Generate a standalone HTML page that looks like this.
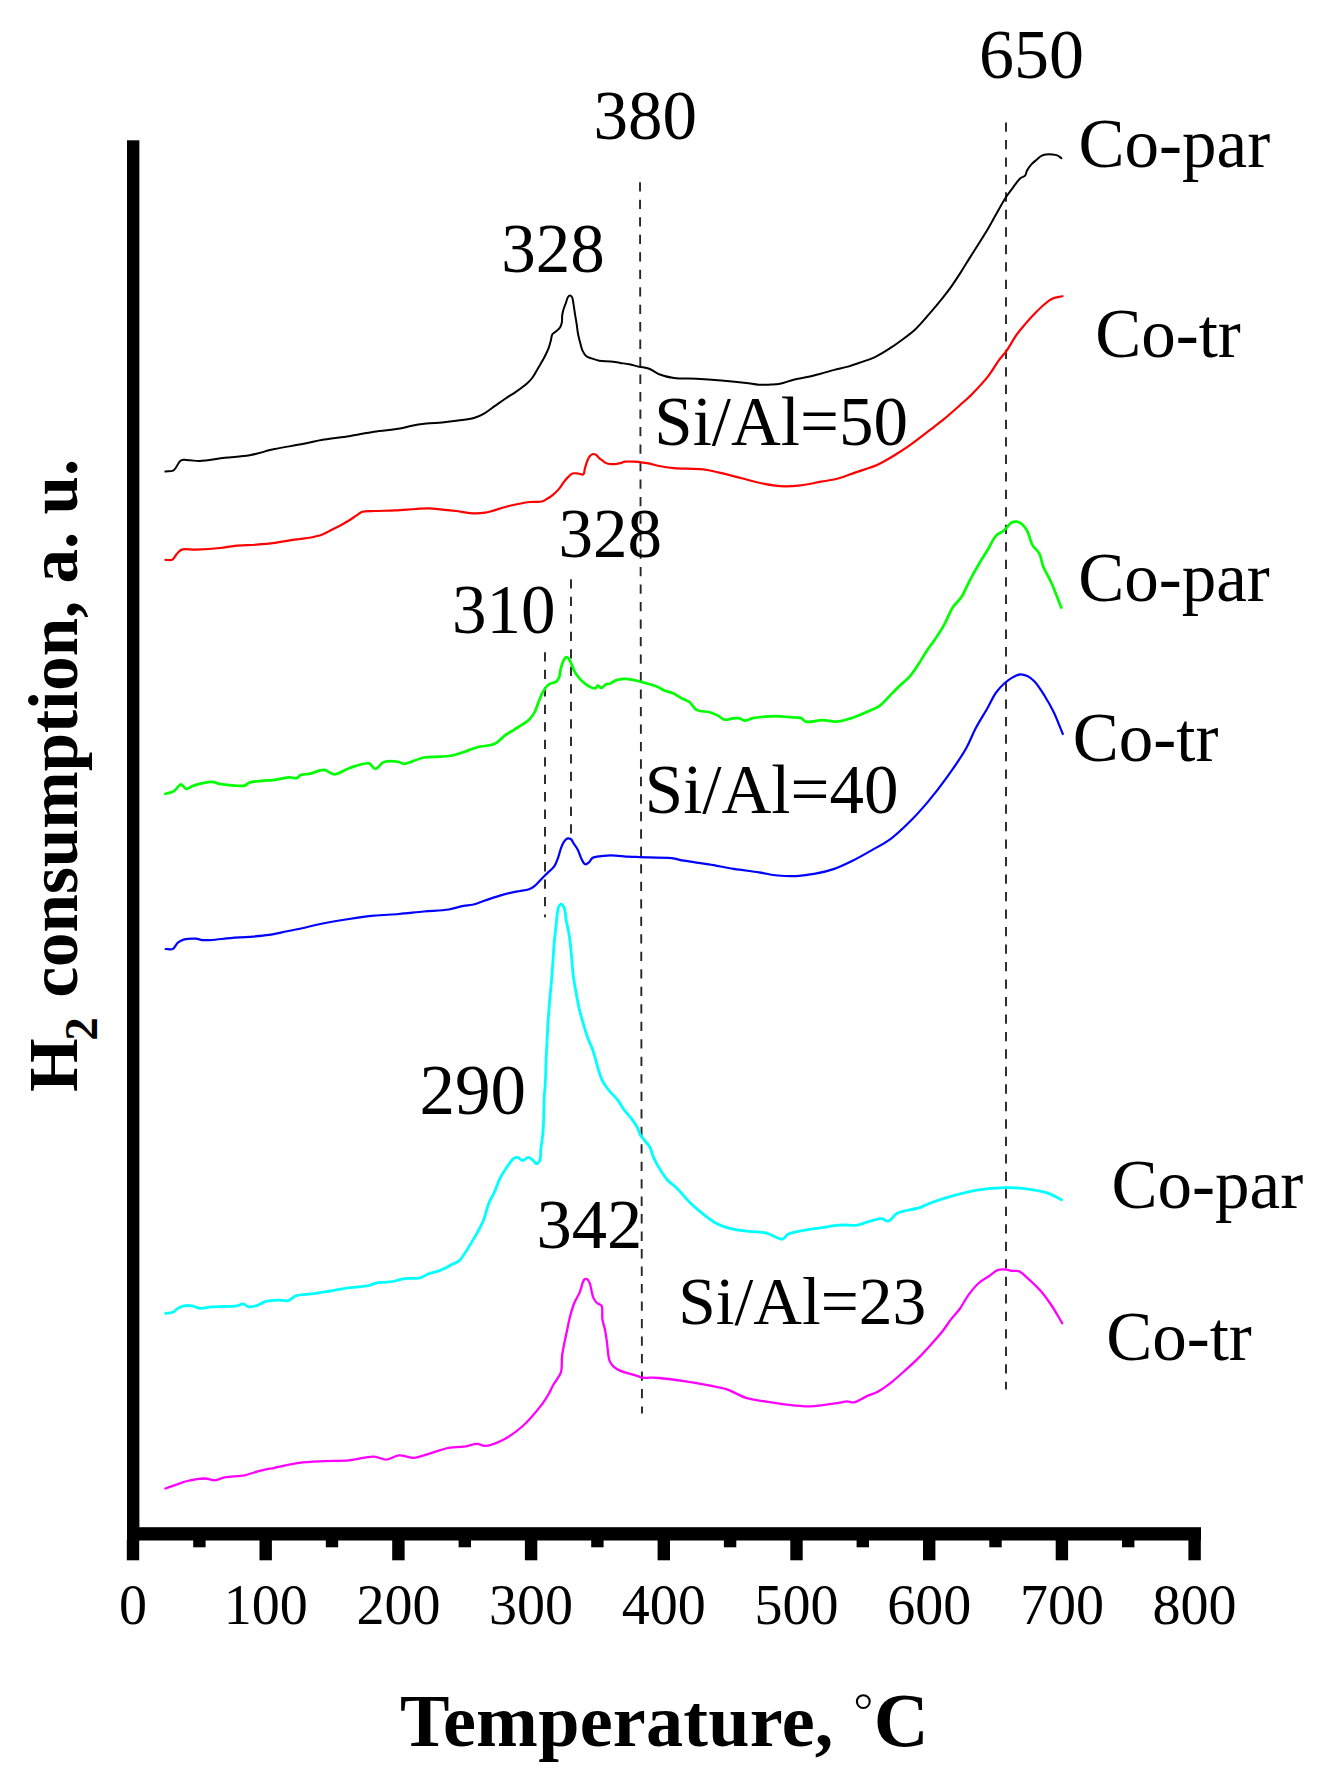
<!DOCTYPE html>
<html><head><meta charset="utf-8"><style>
html,body{margin:0;padding:0;background:#fff;width:1326px;height:1790px;overflow:hidden}
svg{display:block}
text{font-family:"Liberation Serif",serif;fill:#000}
</style></head><body>
<svg width="1326" height="1790" viewBox="0 0 1326 1790">
<rect width="1326" height="1790" fill="#fff"/>

<g stroke="#262626" stroke-width="1.9" stroke-dasharray="9.3 8.19" fill="none">
<line x1="640.0" y1="182.2" x2="642.0" y2="1413.5"/>
<line x1="1006" y1="122.4" x2="1006" y2="1389.5"/>
<line x1="545" y1="652.2" x2="545" y2="917.3"/>
<line x1="571" y1="579.3" x2="571" y2="835"/>
</g>
<path d="M165.40,471.50 C168.13,471.10 171.18,471.74 173.60,470.30 C176.57,468.53 178.07,461.82 181.10,460.30 C183.63,459.04 186.80,460.20 189.80,460.30 C193.02,460.41 195.73,461.12 199.80,461.00 C206.25,460.81 216.39,458.75 224.70,457.80 C232.99,456.85 241.36,456.74 249.60,455.30 C257.93,453.85 266.10,450.89 274.40,449.10 C282.66,447.32 291.01,446.18 299.30,444.60 C307.61,443.02 315.88,441.00 324.20,439.60 C332.48,438.21 340.81,437.51 349.10,436.20 C357.41,434.88 365.59,432.96 374.00,431.70 C382.55,430.42 393.27,429.82 400.00,428.60 C404.34,427.81 406.70,426.77 410.60,426.00 C415.32,425.06 421.12,424.18 426.40,423.60 C431.65,423.02 436.93,423.00 442.20,422.50 C447.50,422.00 452.82,421.35 458.10,420.60 C463.38,419.85 469.24,419.39 473.90,418.00 C477.87,416.81 481.07,415.25 484.50,413.30 C488.11,411.25 491.49,408.36 495.00,405.90 C498.52,403.43 502.05,400.90 505.60,398.50 C509.11,396.13 512.72,394.04 516.20,391.60 C519.75,389.11 523.90,386.16 526.70,383.70 C528.79,381.87 530.09,380.71 531.80,378.50 C534.15,375.46 536.65,370.53 538.90,366.70 C541.01,363.11 543.19,359.53 544.90,356.20 C546.39,353.31 547.68,350.64 548.70,347.90 C549.65,345.35 550.26,342.69 550.90,340.30 C551.47,338.19 551.41,335.84 552.40,334.30 C553.28,332.94 554.96,332.40 556.20,331.30 C557.50,330.14 559.05,328.99 560.00,327.50 C560.97,325.97 561.53,324.11 561.90,322.20 C562.31,320.10 561.90,317.65 562.20,315.40 C562.50,313.15 563.05,310.86 563.70,308.70 C564.33,306.60 565.28,304.56 566.00,302.60 C566.67,300.77 567.09,298.54 567.90,297.30 C568.45,296.45 569.12,295.55 569.80,295.50 C570.49,295.45 571.43,296.15 572.00,297.00 C572.94,298.41 573.03,301.49 573.50,304.10 C574.07,307.27 574.56,311.31 575.10,314.70 C575.60,317.82 576.12,320.57 576.60,323.70 C577.12,327.09 577.45,330.93 578.10,334.30 C578.70,337.44 579.52,340.44 580.30,343.30 C581.02,345.95 581.50,348.67 582.60,350.90 C583.59,352.92 584.82,354.94 586.40,356.20 C587.87,357.37 589.68,357.71 591.60,358.40 C593.87,359.22 596.38,360.19 599.20,360.70 C602.56,361.30 606.91,361.01 610.50,361.40 C613.81,361.76 616.86,362.41 620.00,362.90 C623.09,363.38 626.08,363.69 629.20,364.30 C632.48,364.94 635.86,365.97 639.20,366.70 C642.53,367.43 645.96,367.51 649.20,368.70 C652.61,369.95 655.36,372.71 659.10,374.20 C663.46,375.93 668.48,377.22 674.00,378.00 C680.66,378.94 688.74,378.32 696.40,378.70 C704.48,379.10 713.01,379.70 721.30,380.40 C729.61,381.10 739.32,382.06 746.20,382.90 C751.09,383.50 754.63,384.43 758.70,384.70 C762.55,384.96 766.35,384.76 770.00,384.60 C773.44,384.45 776.45,384.46 780.00,383.80 C784.22,383.02 789.05,380.92 793.60,379.80 C798.08,378.69 802.60,378.11 807.10,377.10 C811.64,376.08 816.17,374.90 820.70,373.70 C825.24,372.50 829.76,371.09 834.30,369.90 C838.82,368.72 843.40,367.89 847.90,366.60 C852.44,365.30 856.90,363.68 861.40,362.10 C865.94,360.51 870.56,359.19 875.00,357.10 C879.63,354.92 884.13,352.06 888.60,349.20 C893.20,346.27 897.73,343.04 902.20,339.70 C906.76,336.29 911.35,332.99 915.70,328.90 C920.41,324.47 924.82,319.05 929.30,313.90 C933.89,308.63 939.13,302.29 942.90,297.60 C945.69,294.13 947.45,291.95 950.00,288.40 C953.32,283.79 957.48,277.40 960.90,272.10 C964.09,267.15 966.88,262.42 969.90,257.60 C972.92,252.79 975.98,248.01 979.00,243.20 C982.02,238.38 985.05,233.71 988.00,228.70 C991.09,223.46 994.05,217.74 997.10,212.40 C1000.08,207.18 1003.16,201.50 1006.10,197.00 C1008.54,193.27 1010.85,190.30 1013.30,187.10 C1015.69,183.97 1018.26,179.91 1020.60,178.00 C1022.14,176.75 1024.05,176.88 1025.10,175.70 C1026.17,174.50 1026.02,172.48 1026.90,170.80 C1027.98,168.74 1029.70,166.30 1031.40,164.40 C1033.05,162.55 1035.14,161.00 1036.90,159.50 C1038.46,158.16 1039.81,156.64 1041.40,155.80 C1042.83,155.05 1044.25,154.73 1045.90,154.50 C1047.83,154.23 1050.32,154.32 1052.30,154.50 C1054.05,154.66 1055.70,154.80 1057.20,155.40 C1058.69,156.00 1059.93,157.20 1061.30,158.10" fill="none" stroke="#000000" stroke-width="2.0" stroke-linejoin="round" stroke-linecap="round"/>
<path d="M165.40,559.80 C167.63,559.80 170.22,560.70 172.10,559.80 C174.11,558.83 175.22,555.56 176.90,553.80 C178.43,552.20 179.46,550.44 181.70,549.60 C185.08,548.33 190.76,549.78 196.20,549.60 C203.22,549.37 213.29,548.74 220.30,548.00 C225.76,547.42 229.47,546.43 234.80,545.90 C241.29,545.25 249.60,545.23 256.50,544.70 C262.81,544.21 268.58,543.70 274.60,542.90 C280.65,542.10 288.01,540.58 292.70,539.90 C295.67,539.47 297.32,539.35 300.00,539.00 C303.27,538.57 307.29,538.20 310.90,537.50 C314.53,536.80 318.41,536.02 321.70,534.80 C324.69,533.69 327.06,532.11 329.90,530.70 C332.95,529.18 336.26,527.68 339.40,526.00 C342.59,524.29 345.89,522.37 348.90,520.50 C351.74,518.74 354.56,516.68 357.00,515.10 C358.97,513.82 360.12,512.43 362.40,511.70 C365.57,510.69 370.09,511.20 374.70,511.00 C380.62,510.74 388.23,510.73 395.00,510.40 C401.79,510.07 409.29,509.37 415.40,509.00 C420.39,508.70 424.48,508.18 429.00,508.30 C433.51,508.42 437.99,509.25 442.50,509.70 C447.02,510.15 451.57,510.43 456.10,511.00 C460.64,511.57 465.03,512.80 469.70,513.10 C474.61,513.41 479.27,513.55 484.90,512.70 C492.24,511.59 501.89,507.53 509.80,505.70 C516.85,504.07 524.15,502.66 530.00,502.00 C534.44,501.50 538.69,502.30 541.80,501.50 C544.02,500.93 545.37,499.90 547.20,498.80 C549.27,497.56 551.53,495.95 553.50,494.30 C555.46,492.65 557.34,490.86 559.00,488.90 C560.67,486.93 561.96,484.51 563.50,482.50 C564.96,480.59 566.42,478.65 568.00,477.10 C569.43,475.70 570.81,474.09 572.50,473.50 C574.15,472.92 576.18,473.35 578.00,473.50 C579.81,473.65 582.27,475.14 583.40,474.40 C584.55,473.66 584.26,470.93 584.80,469.00 C585.43,466.74 586.12,463.92 587.00,461.70 C587.78,459.73 588.51,457.62 589.70,456.30 C590.70,455.19 592.14,454.15 593.30,454.00 C594.26,453.88 595.18,454.33 596.10,454.90 C597.32,455.66 598.54,457.63 599.70,458.60 C600.62,459.37 601.52,459.75 602.40,460.40 C603.32,461.08 604.02,462.02 605.10,462.60 C606.36,463.27 607.95,463.75 609.60,464.00 C611.53,464.29 614.06,464.19 616.00,464.00 C617.64,463.84 619.01,463.48 620.50,463.10 C622.01,462.72 623.21,461.97 625.00,461.70 C627.48,461.32 631.08,461.55 634.10,461.70 C637.11,461.85 640.30,462.24 643.10,462.60 C645.56,462.92 647.55,463.20 650.00,463.70 C652.84,464.28 655.68,465.33 659.10,466.00 C663.42,466.85 668.11,467.56 673.90,468.10 C682.02,468.85 695.03,468.39 703.30,469.40 C709.44,470.15 713.45,471.30 719.20,472.60 C726.09,474.16 734.26,476.42 741.80,478.30 C749.33,480.18 757.50,482.55 764.40,483.90 C770.13,485.02 774.81,485.88 780.30,486.20 C786.12,486.54 792.06,486.35 798.40,485.70 C805.54,484.97 813.89,483.00 821.00,481.70 C827.37,480.54 833.33,479.87 839.10,478.30 C844.61,476.80 849.15,474.64 854.90,472.60 C861.78,470.16 870.59,467.86 877.60,464.70 C884.12,461.76 890.14,457.86 895.70,454.50 C900.61,451.53 904.16,449.30 909.30,445.70 C916.44,440.69 927.84,431.71 934.20,426.80 C938.20,423.72 940.32,422.16 943.90,419.20 C948.55,415.35 954.66,409.93 959.60,405.50 C964.11,401.45 967.97,398.20 972.40,393.70 C977.70,388.31 984.36,381.09 989.00,375.10 C992.90,370.05 995.61,364.74 998.80,360.40 C1001.49,356.74 1004.04,354.34 1006.70,350.60 C1009.93,346.06 1013.29,339.44 1016.50,334.90 C1019.14,331.16 1021.57,328.33 1024.30,325.10 C1027.10,321.79 1030.03,318.52 1033.10,315.30 C1036.26,311.99 1039.60,308.36 1043.00,305.50 C1046.15,302.85 1049.30,300.15 1052.70,298.60 C1055.83,297.17 1059.23,297.00 1062.50,296.20" fill="none" stroke="#ff0000" stroke-width="2.2" stroke-linejoin="round" stroke-linecap="round"/>
<path d="M165.40,793.80 C168.13,792.97 171.08,792.74 173.60,791.30 C176.35,789.73 178.84,784.42 181.10,784.40 C182.93,784.38 184.15,788.49 186.10,788.80 C188.26,789.15 190.48,786.56 193.60,785.60 C198.36,784.13 207.40,781.75 212.20,781.90 C215.27,782.00 216.75,783.34 219.70,783.90 C223.80,784.68 230.12,785.35 234.60,785.60 C238.26,785.81 241.93,786.38 244.60,785.60 C246.66,785.00 247.16,783.25 249.60,782.40 C254.61,780.66 267.18,780.86 274.40,779.90 C280.04,779.15 285.27,777.55 289.40,777.40 C292.29,777.30 294.84,778.71 296.80,778.10 C298.40,777.60 298.94,775.62 300.60,774.90 C302.81,773.95 306.04,774.52 309.30,773.90 C313.63,773.07 319.78,769.54 324.20,769.90 C327.92,770.20 330.52,774.35 334.20,774.40 C338.66,774.46 343.70,769.96 349.10,768.20 C355.18,766.21 364.44,762.26 369.00,763.40 C371.90,764.12 372.92,768.83 375.20,768.90 C377.85,768.98 380.43,763.23 384.00,762.00 C388.12,760.58 395.30,761.34 398.90,762.00 C401.06,762.40 401.67,763.84 403.90,763.90 C408.32,764.01 417.43,758.66 423.80,757.50 C429.41,756.48 434.96,757.07 440.00,756.70 C444.41,756.38 448.30,756.31 452.40,755.50 C456.60,754.67 460.76,753.08 464.90,751.70 C469.06,750.31 472.76,748.46 477.30,747.20 C482.58,745.74 490.02,746.06 494.80,743.80 C498.86,741.88 501.31,738.06 504.70,735.60 C507.95,733.25 511.19,731.52 514.70,729.30 C518.61,726.82 524.46,723.44 527.10,721.40 C528.47,720.34 528.99,719.85 530.00,718.70 C531.41,717.09 533.20,714.78 534.50,712.40 C535.96,709.72 536.90,706.32 538.10,703.30 C539.30,700.29 540.40,696.99 541.70,694.30 C542.82,691.97 543.96,689.75 545.30,688.00 C546.43,686.51 547.43,685.31 549.00,684.30 C550.90,683.07 554.49,682.88 556.20,681.60 C557.51,680.62 558.20,679.57 558.90,678.00 C559.90,675.76 559.93,671.91 560.70,669.00 C561.44,666.18 562.28,662.91 563.40,660.80 C564.22,659.27 565.19,657.36 566.20,657.20 C567.05,657.06 568.10,658.10 568.90,659.00 C569.99,660.23 570.73,662.51 571.60,664.40 C572.53,666.43 573.33,668.88 574.30,670.80 C575.15,672.46 575.86,673.72 577.00,675.30 C578.43,677.28 580.40,679.77 582.40,681.60 C584.35,683.39 586.59,685.05 588.80,686.20 C590.83,687.26 593.52,688.76 595.10,688.40 C596.30,688.13 596.79,685.81 597.80,685.70 C598.87,685.58 600.15,688.07 601.40,688.00 C602.87,687.92 604.38,685.06 606.00,684.30 C607.43,683.63 608.98,683.97 610.50,683.40 C612.27,682.73 613.84,681.04 615.90,680.30 C618.28,679.44 621.30,679.00 624.10,678.90 C627.02,678.80 630.32,679.30 633.10,679.80 C635.57,680.24 637.21,680.82 640.00,681.60 C644.35,682.81 652.08,684.71 656.60,686.50 C659.91,687.81 662.08,689.57 664.90,690.70 C667.62,691.79 670.51,692.01 673.20,693.20 C676.05,694.46 678.70,696.67 681.50,698.20 C684.24,699.70 687.35,700.42 689.80,702.30 C692.34,704.25 693.46,708.12 696.40,709.80 C699.83,711.75 705.83,711.18 709.70,712.30 C712.84,713.21 715.44,714.31 718.00,715.60 C720.38,716.80 722.17,719.21 724.60,719.70 C727.12,720.21 730.27,718.60 732.90,718.40 C735.25,718.22 737.58,717.97 739.60,718.40 C741.41,718.79 742.63,720.48 744.50,720.60 C746.88,720.75 749.77,718.73 752.80,718.10 C756.31,717.36 760.52,717.03 764.40,716.70 C768.29,716.37 772.08,716.04 776.10,716.10 C780.37,716.17 785.03,716.86 789.30,717.20 C793.32,717.52 798.05,717.01 801.00,718.10 C803.12,718.89 803.62,721.07 805.90,721.70 C809.67,722.74 817.28,720.04 822.50,720.10 C827.18,720.16 831.42,721.91 835.80,721.70 C840.15,721.50 844.86,719.96 848.70,718.90 C851.88,718.02 854.31,717.13 857.30,716.00 C860.65,714.74 864.20,713.24 867.80,711.60 C871.72,709.81 876.08,708.35 879.90,705.60 C884.21,702.49 888.30,697.12 892.00,693.40 C895.14,690.25 897.76,687.48 900.70,684.70 C903.56,681.99 906.66,679.96 909.40,676.90 C912.50,673.45 915.28,669.02 918.10,664.80 C921.05,660.38 923.75,655.32 926.70,650.90 C929.52,646.68 932.57,643.02 935.40,638.80 C938.37,634.37 941.33,629.87 944.10,624.90 C947.12,619.50 949.50,612.40 952.70,607.50 C955.37,603.40 958.72,601.19 961.40,597.10 C964.61,592.22 967.14,585.39 970.10,579.80 C972.94,574.43 975.85,569.22 978.80,564.20 C981.62,559.40 984.55,555.01 987.40,550.30 C990.32,545.48 992.93,538.85 996.10,535.60 C998.30,533.34 1001.25,532.68 1003.10,531.20 C1004.51,530.07 1005.25,529.06 1006.50,527.80 C1008.05,526.23 1009.79,523.48 1011.70,522.50 C1013.31,521.68 1015.21,521.43 1016.90,521.70 C1018.68,521.98 1020.51,522.97 1022.10,524.30 C1024.04,525.92 1025.74,528.37 1027.30,531.20 C1029.34,534.92 1030.25,541.16 1032.50,545.10 C1034.45,548.52 1037.77,550.46 1039.50,553.80 C1041.34,557.34 1041.32,561.58 1043.00,565.90 C1045.08,571.26 1048.78,576.96 1051.60,583.30 C1054.86,590.64 1058.00,599.43 1061.20,607.50" fill="none" stroke="#00ff00" stroke-width="2.7" stroke-linejoin="round" stroke-linecap="round"/>
<path d="M165.60,949.00 C168.00,949.00 170.79,949.97 172.80,949.00 C174.94,947.97 175.89,944.22 177.90,942.60 C179.79,941.08 181.85,940.08 184.40,939.40 C187.62,938.55 192.64,938.45 195.90,938.70 C198.36,938.89 199.97,939.86 202.30,940.10 C205.03,940.38 207.74,940.20 211.30,940.00 C216.51,939.71 224.10,938.63 230.50,938.10 C236.90,937.57 243.30,937.33 249.70,936.80 C256.13,936.27 263.24,935.77 269.00,934.90 C273.72,934.19 277.10,933.24 281.80,932.30 C287.55,931.15 294.60,929.88 301.00,928.50 C307.44,927.11 313.20,925.44 320.30,924.00 C328.92,922.25 339.84,920.42 349.10,919.00 C357.69,917.69 365.69,916.53 374.00,915.70 C382.29,914.87 390.61,914.70 398.90,914.00 C407.21,913.30 415.50,912.25 423.80,911.50 C432.10,910.75 441.50,910.67 448.70,909.50 C454.34,908.58 459.26,906.58 463.60,905.80 C466.90,905.21 469.25,905.51 472.40,904.80 C476.25,903.93 480.55,901.96 484.90,900.50 C489.64,898.90 494.80,897.05 499.80,895.60 C504.77,894.16 511.08,892.56 514.80,891.80 C516.97,891.36 518.03,891.35 520.00,891.00 C522.60,890.54 526.43,890.15 529.00,889.20 C531.13,888.41 532.64,887.52 534.50,886.10 C536.86,884.29 539.47,881.05 541.70,878.80 C543.63,876.86 545.16,875.33 547.10,873.40 C549.35,871.17 552.56,868.87 554.40,866.20 C556.12,863.70 556.96,860.83 558.00,858.00 C559.07,855.10 559.72,851.72 560.70,849.00 C561.54,846.66 562.24,844.40 563.40,842.60 C564.43,841.01 565.74,839.11 567.10,838.60 C568.21,838.19 569.63,838.35 570.70,839.00 C572.13,839.87 573.10,842.59 574.30,844.40 C575.50,846.22 576.80,847.78 577.90,849.90 C579.24,852.48 580.13,856.34 581.50,858.90 C582.62,861.00 583.80,863.94 585.20,864.30 C586.30,864.58 587.69,863.40 588.80,862.50 C590.13,861.43 590.96,858.96 592.40,858.00 C593.70,857.13 594.97,857.07 596.90,856.70 C600.19,856.06 605.64,855.36 610.50,855.30 C616.10,855.23 623.26,856.40 628.60,856.70 C632.83,856.94 635.25,856.93 640.00,857.10 C647.89,857.38 663.41,857.26 671.50,858.20 C676.64,858.80 679.11,859.85 684.00,860.70 C690.87,861.90 700.61,863.04 708.90,864.40 C717.21,865.77 725.47,867.58 733.80,868.90 C742.14,870.22 751.15,871.12 758.90,872.30 C765.63,873.33 771.40,874.87 777.70,875.50 C783.97,876.13 790.32,876.40 796.60,876.10 C802.89,875.80 809.16,874.89 815.40,873.70 C821.73,872.50 828.10,871.05 834.30,868.90 C840.67,866.69 846.89,863.59 853.10,860.50 C859.46,857.34 865.74,853.70 872.00,850.10 C878.31,846.47 884.73,843.29 890.80,838.80 C897.33,833.97 903.56,827.91 909.70,821.80 C916.14,815.39 922.37,808.42 928.50,801.10 C934.95,793.40 941.26,785.17 947.40,776.60 C953.84,767.61 961.29,757.00 966.20,748.30 C970.09,741.41 971.90,735.48 975.30,729.00 C978.92,722.12 983.73,714.66 987.40,708.20 C990.57,702.62 992.92,696.92 996.10,692.50 C998.80,688.75 1001.75,685.68 1004.80,683.00 C1007.57,680.57 1010.68,678.39 1013.50,676.90 C1015.85,675.66 1018.08,674.42 1020.40,674.30 C1022.68,674.18 1025.09,675.04 1027.30,676.10 C1029.74,677.27 1031.93,678.88 1034.30,681.30 C1037.70,684.78 1041.51,690.94 1044.70,696.00 C1047.88,701.04 1050.60,705.84 1053.40,711.60 C1056.67,718.31 1059.67,726.53 1062.80,734.00" fill="none" stroke="#0000ff" stroke-width="2.2" stroke-linejoin="round" stroke-linecap="round"/>
<path d="M165.60,1313.30 C168.00,1312.97 170.86,1313.15 172.80,1312.30 C174.42,1311.59 175.14,1310.08 176.70,1309.10 C178.63,1307.89 181.20,1306.44 183.70,1305.90 C186.31,1305.33 189.40,1305.48 192.10,1305.90 C194.73,1306.31 196.87,1308.04 199.70,1308.30 C203.13,1308.62 207.33,1307.20 211.30,1306.90 C215.45,1306.58 219.83,1306.67 224.10,1306.50 C228.37,1306.33 233.40,1306.54 236.90,1305.90 C239.44,1305.43 241.32,1303.60 243.30,1303.80 C245.17,1303.99 246.46,1306.43 248.50,1306.80 C251.00,1307.25 254.60,1306.19 257.40,1305.30 C260.12,1304.43 262.13,1302.46 265.10,1301.60 C268.75,1300.54 273.86,1300.24 277.90,1300.10 C281.51,1299.98 285.13,1301.40 288.20,1300.60 C291.08,1299.85 292.64,1296.94 295.90,1295.80 C300.49,1294.19 307.99,1294.52 313.80,1293.70 C319.34,1292.91 324.30,1291.95 330.00,1291.00 C336.36,1289.93 343.64,1288.51 350.20,1287.60 C356.39,1286.74 363.46,1286.66 368.30,1285.60 C371.68,1284.86 373.77,1283.37 376.70,1282.80 C379.76,1282.21 383.20,1282.51 386.30,1282.20 C389.23,1281.90 391.90,1281.57 394.80,1281.00 C397.92,1280.39 400.78,1279.14 404.40,1278.60 C408.96,1277.92 415.75,1278.89 420.10,1277.80 C423.46,1276.96 425.47,1275.00 428.60,1273.80 C432.21,1272.42 436.66,1271.77 440.60,1270.20 C444.70,1268.57 449.37,1265.77 452.70,1264.10 C455.05,1262.92 456.85,1262.61 458.70,1261.10 C460.95,1259.26 462.85,1256.10 464.80,1253.30 C466.89,1250.30 468.77,1246.96 470.80,1243.60 C472.97,1240.01 475.30,1236.27 477.40,1232.40 C479.57,1228.41 481.77,1224.54 483.60,1220.00 C485.67,1214.86 486.90,1207.94 488.90,1203.00 C490.54,1198.95 492.58,1196.11 494.30,1192.30 C496.19,1188.12 497.58,1183.13 499.70,1178.90 C501.76,1174.78 504.30,1170.76 506.80,1167.20 C509.09,1163.95 511.81,1159.71 514.00,1158.30 C515.23,1157.51 516.24,1157.23 517.50,1157.40 C519.15,1157.62 521.10,1160.50 522.90,1160.50 C524.70,1160.50 526.53,1157.33 528.30,1157.40 C530.10,1157.47 532.17,1159.82 533.60,1161.00 C534.70,1161.91 535.34,1163.70 536.30,1163.70 C537.41,1163.70 539.11,1161.81 539.90,1160.10 C541.05,1157.61 540.39,1153.16 540.80,1149.40 C541.26,1145.18 542.15,1140.47 542.60,1136.00 C543.05,1131.54 543.25,1127.84 543.50,1122.60 C543.86,1115.18 543.91,1102.63 544.30,1095.70 C544.55,1091.32 544.94,1089.32 545.20,1085.00 C545.60,1078.41 545.79,1067.16 546.10,1060.00 C546.33,1054.60 546.51,1051.38 546.80,1045.80 C547.22,1037.80 547.65,1027.28 548.40,1016.60 C549.31,1003.60 551.10,986.39 552.10,973.40 C552.92,962.75 553.35,952.98 554.10,944.30 C554.71,937.26 555.34,931.47 556.10,925.20 C556.84,919.08 557.07,910.48 558.60,907.10 C559.31,905.52 560.32,904.07 561.20,904.10 C562.19,904.13 563.42,906.28 564.20,908.10 C565.42,910.95 565.43,915.96 566.20,920.20 C567.07,924.94 568.38,930.02 569.20,935.20 C570.07,940.70 570.58,946.17 571.20,952.30 C571.92,959.42 572.34,968.53 573.20,975.40 C573.90,980.98 574.76,985.25 575.70,990.50 C576.73,996.27 577.87,1002.86 579.20,1008.60 C580.43,1013.89 581.90,1018.87 583.30,1023.70 C584.60,1028.21 585.78,1032.48 587.30,1036.70 C588.79,1040.84 590.86,1044.81 592.30,1048.80 C593.67,1052.57 594.75,1056.34 595.80,1060.00 C596.80,1063.47 597.44,1066.82 598.50,1070.20 C599.57,1073.62 600.53,1077.11 602.20,1080.40 C603.97,1083.89 606.50,1087.33 609.00,1090.50 C611.50,1093.66 614.72,1096.22 617.20,1099.40 C619.69,1102.59 621.56,1106.46 623.90,1109.60 C626.08,1112.52 628.51,1114.78 630.70,1117.70 C633.06,1120.84 635.85,1124.76 637.50,1127.90 C638.77,1130.32 639.04,1132.64 640.20,1134.70 C641.32,1136.69 642.83,1138.20 644.30,1140.10 C645.97,1142.24 648.26,1144.31 649.70,1146.90 C651.25,1149.69 651.76,1153.27 653.10,1156.40 C654.48,1159.61 655.90,1162.49 657.90,1165.90 C660.43,1170.21 664.03,1176.20 667.40,1180.00 C670.19,1183.15 673.00,1184.50 676.20,1187.60 C680.54,1191.80 685.91,1198.66 690.70,1203.30 C694.93,1207.40 699.01,1210.82 703.30,1214.20 C707.45,1217.47 711.45,1220.88 716.00,1223.30 C720.52,1225.71 725.32,1227.37 730.50,1228.70 C736.13,1230.15 742.56,1230.65 748.60,1231.40 C754.62,1232.15 761.00,1231.83 766.70,1233.20 C772.13,1234.50 778.22,1239.80 782.10,1239.20 C784.82,1238.78 785.68,1235.45 788.40,1234.10 C792.09,1232.26 797.77,1231.52 802.90,1230.50 C808.57,1229.38 814.97,1228.70 821.00,1227.80 C827.03,1226.90 833.05,1225.55 839.10,1225.10 C845.12,1224.65 852.25,1225.83 857.20,1225.10 C860.76,1224.58 862.78,1223.32 866.20,1222.40 C870.65,1221.20 877.69,1218.42 881.70,1218.70 C884.33,1218.88 885.88,1221.58 888.10,1221.20 C891.10,1220.68 893.45,1215.14 897.60,1213.00 C903.19,1210.12 913.93,1209.54 919.70,1207.60 C923.59,1206.29 925.60,1204.89 929.20,1203.50 C933.79,1201.73 938.85,1199.94 945.10,1198.10 C953.82,1195.54 966.45,1191.95 976.80,1190.20 C986.49,1188.56 996.75,1187.76 1005.30,1187.60 C1012.27,1187.47 1017.75,1187.82 1024.30,1188.60 C1031.42,1189.44 1039.84,1190.62 1046.40,1192.70 C1052.06,1194.50 1056.53,1197.37 1061.60,1199.70" fill="none" stroke="#00ffff" stroke-width="2.8" stroke-linejoin="round" stroke-linecap="round"/>
<path d="M165.40,1488.50 C168.57,1487.40 171.52,1486.36 174.90,1485.20 C178.76,1483.88 182.76,1482.08 187.30,1481.00 C192.58,1479.74 199.80,1478.41 204.80,1478.50 C208.57,1478.57 211.41,1480.48 214.70,1480.30 C218.05,1480.11 220.75,1478.08 224.70,1477.30 C230.16,1476.22 238.80,1476.45 244.60,1475.30 C249.27,1474.38 252.49,1472.76 257.00,1471.60 C262.29,1470.24 268.08,1469.13 274.40,1467.80 C281.95,1466.22 290.96,1463.92 299.30,1462.80 C307.56,1461.69 315.90,1461.52 324.20,1461.10 C332.50,1460.68 340.82,1461.05 349.10,1460.30 C357.42,1459.55 367.16,1456.29 374.00,1456.60 C378.87,1456.82 382.28,1459.78 386.40,1459.60 C390.58,1459.42 394.50,1455.75 398.90,1455.40 C403.60,1455.03 409.34,1458.08 413.80,1457.90 C417.48,1457.75 419.74,1456.52 423.80,1455.40 C430.26,1453.62 441.39,1449.28 448.70,1447.90 C454.24,1446.86 458.75,1447.39 463.60,1446.70 C468.31,1446.04 473.51,1443.78 477.40,1443.90 C480.29,1443.99 481.90,1445.98 484.90,1445.90 C489.51,1445.77 496.51,1443.07 502.30,1440.20 C508.95,1436.91 515.89,1432.08 522.20,1426.50 C529.23,1420.29 537.54,1410.05 542.10,1404.10 C544.85,1400.51 546.23,1398.19 548.10,1395.00 C550.04,1391.67 551.49,1388.06 553.50,1384.50 C555.68,1380.64 559.33,1377.20 560.80,1372.70 C562.44,1367.68 561.42,1360.78 562.10,1355.50 C562.68,1350.93 563.57,1347.02 564.40,1342.80 C565.23,1338.59 566.20,1334.41 567.10,1330.20 C568.00,1325.98 568.67,1321.85 569.80,1317.50 C571.03,1312.80 572.51,1307.42 574.30,1303.00 C575.90,1299.04 578.16,1295.92 579.80,1292.10 C581.51,1288.10 582.47,1281.06 584.30,1279.50 C585.13,1278.79 586.20,1278.66 587.00,1279.00 C588.07,1279.46 588.88,1281.22 589.70,1283.10 C591.14,1286.38 591.70,1294.04 593.30,1297.60 C594.36,1299.96 595.53,1301.62 597.00,1303.00 C598.31,1304.24 600.50,1304.07 601.50,1305.70 C603.11,1308.33 601.74,1315.04 602.40,1319.30 C603.00,1323.16 604.36,1326.49 605.10,1330.20 C605.86,1334.01 606.25,1337.53 606.90,1341.90 C607.72,1347.47 607.95,1356.59 609.60,1360.90 C610.57,1363.43 611.65,1364.80 613.30,1366.40 C615.17,1368.21 617.88,1369.71 620.50,1370.90 C623.26,1372.15 626.49,1372.70 629.50,1373.60 C632.52,1374.50 636.27,1375.50 638.60,1376.30 C640.09,1376.81 640.74,1377.43 642.20,1377.70 C644.27,1378.09 647.30,1377.66 650.00,1377.70 C652.92,1377.75 655.33,1377.70 659.10,1378.00 C665.36,1378.50 675.71,1379.97 684.00,1381.20 C692.31,1382.43 701.36,1383.96 708.90,1385.40 C715.23,1386.61 720.41,1387.19 726.30,1389.10 C732.82,1391.21 739.44,1395.81 746.20,1397.90 C752.72,1399.92 759.55,1400.52 766.10,1401.60 C772.44,1402.65 778.18,1403.55 784.90,1404.30 C792.61,1405.16 801.11,1406.48 809.80,1406.30 C819.39,1406.10 833.50,1403.61 840.00,1402.60 C843.12,1402.12 844.59,1401.34 846.90,1401.30 C849.22,1401.26 851.32,1402.78 853.90,1402.40 C857.46,1401.88 861.94,1398.44 866.00,1396.60 C870.04,1394.77 874.12,1393.65 878.20,1391.40 C882.79,1388.86 887.49,1385.32 892.00,1381.80 C896.73,1378.12 901.45,1373.70 905.90,1369.70 C910.13,1365.90 914.11,1362.38 918.10,1358.40 C922.22,1354.29 926.20,1349.84 930.20,1345.40 C934.27,1340.88 938.69,1336.06 942.30,1331.50 C945.54,1327.40 948.03,1323.23 951.00,1319.40 C953.83,1315.75 956.93,1312.82 959.70,1309.00 C962.75,1304.80 965.19,1299.46 968.40,1295.10 C971.57,1290.80 975.10,1286.29 978.80,1283.00 C982.08,1280.08 985.91,1278.26 989.20,1276.00 C992.21,1273.94 994.94,1271.03 997.80,1270.00 C1000.14,1269.15 1002.48,1269.27 1004.80,1269.40 C1007.12,1269.53 1009.38,1270.50 1011.70,1270.80 C1014.01,1271.10 1016.38,1270.34 1018.70,1271.20 C1021.59,1272.27 1024.19,1275.08 1027.30,1277.80 C1031.49,1281.46 1037.06,1286.83 1041.20,1291.60 C1045.10,1296.09 1048.24,1300.49 1051.60,1305.50 C1055.26,1310.96 1058.67,1317.30 1062.20,1323.20" fill="none" stroke="#ff00ff" stroke-width="2.3" stroke-linejoin="round" stroke-linecap="round"/>
<rect x="127" y="140.3" width="12.4" height="1400.5" fill="#000"/>
<rect x="127" y="1527.2" width="1074" height="13.3" fill="#000"/>
<rect x="126.8" y="1540" width="12.4" height="20.3" fill="#000"/>
<rect x="193.2" y="1540" width="12.4" height="7.3" fill="#000"/>
<rect x="259.5" y="1540" width="12.4" height="20.3" fill="#000"/>
<rect x="325.8" y="1540" width="12.4" height="7.3" fill="#000"/>
<rect x="392.2" y="1540" width="12.4" height="20.3" fill="#000"/>
<rect x="458.6" y="1540" width="12.4" height="7.3" fill="#000"/>
<rect x="524.9" y="1540" width="12.4" height="20.3" fill="#000"/>
<rect x="591.2" y="1540" width="12.4" height="7.3" fill="#000"/>
<rect x="657.6" y="1540" width="12.4" height="20.3" fill="#000"/>
<rect x="723.9" y="1540" width="12.4" height="7.3" fill="#000"/>
<rect x="790.3" y="1540" width="12.4" height="20.3" fill="#000"/>
<rect x="856.6" y="1540" width="12.4" height="7.3" fill="#000"/>
<rect x="923.0" y="1540" width="12.4" height="20.3" fill="#000"/>
<rect x="989.3" y="1540" width="12.4" height="7.3" fill="#000"/>
<rect x="1055.7" y="1540" width="12.4" height="20.3" fill="#000"/>
<rect x="1122.0" y="1540" width="12.4" height="7.3" fill="#000"/>
<rect x="1188.4" y="1540" width="12.4" height="20.3" fill="#000"/>
<text x="133.0" y="1623.5" font-size="56" text-anchor="middle">0</text>
<text x="265.7" y="1623.5" font-size="56" text-anchor="middle">100</text>
<text x="398.4" y="1623.5" font-size="56" text-anchor="middle">200</text>
<text x="531.1" y="1623.5" font-size="56" text-anchor="middle">300</text>
<text x="663.8" y="1623.5" font-size="56" text-anchor="middle">400</text>
<text x="796.5" y="1623.5" font-size="56" text-anchor="middle">500</text>
<text x="929.2" y="1623.5" font-size="56" text-anchor="middle">600</text>
<text x="1061.9" y="1623.5" font-size="56" text-anchor="middle">700</text>
<text x="1194.6" y="1623.5" font-size="56" text-anchor="middle">800</text>
<text x="979.1" y="77.5" font-size="70">650</text>
<text x="593.5" y="139.0" font-size="69">380</text>
<text x="501.3" y="271.5" font-size="69">328</text>
<text x="558.5" y="557.3" font-size="69">328</text>
<text x="452.0" y="632.8" font-size="69">310</text>
<text x="419.6" y="1113.7" font-size="71">290</text>
<text x="536.6" y="1248.0" font-size="70.5">342</text>
<text x="1078.6" y="166.5" font-size="69">Co-par</text>
<text x="1095.2" y="356.5" font-size="69">Co-tr</text>
<text x="1078.2" y="600.5" font-size="69">Co-par</text>
<text x="1072.8" y="761.2" font-size="69">Co-tr</text>
<text x="1111.6" y="1207.5" font-size="69">Co-par</text>
<text x="1106.2" y="1360.3" font-size="69">Co-tr</text>
<text x="654.3" y="445.0" font-size="69">Si/Al=50</text>
<text x="644.8" y="813.0" font-size="69">Si/Al=40</text>
<text x="678.2" y="1324.0" font-size="67.5">Si/Al=23</text>
<text x="400" y="1746.3" font-size="74.2" font-weight="bold" letter-spacing="0.25">Temperature,</text>
<circle cx="863.3" cy="1701.6" r="6.4" fill="none" stroke="#000" stroke-width="2.1"/>
<text x="873.8" y="1746.3" font-size="76" font-weight="bold">C</text>
<text transform="translate(76.5,1092) rotate(-90)" font-size="69" font-weight="bold">H<tspan font-size="47" dy="20.3" dx="-2.5">2</tspan><tspan dy="-20.3" dx="2.5"> consumption, a. u.</tspan></text>
</svg></body></html>
